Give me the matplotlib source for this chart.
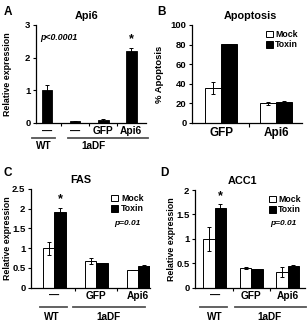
import matplotlib
matplotlib.use("Agg")
import matplotlib.pyplot as plt
from matplotlib.lines import Line2D
import numpy as np

plt.rcParams['font.family'] = ['Liberation Sans', 'DejaVu Sans']
plt.rcParams['font.weight'] = 'bold'

# ---------------- data ----------------
a_labels = ["—", "—", "GFP", "Api6"]
a_values = [1.0, 0.05, 0.09, 2.2]
a_errors = [0.17, 0.01, 0.03, 0.1]

b_labels = ["GFP", "Api6"]
b_mock = [36, 20]
b_mock_err = [6, 1.5]
b_toxin = [81, 21]
b_toxin_err = [0, 1]

c_labels = ["—", "GFP", "Api6"]
c_mock = [1.0, 0.68, 0.45]
c_mock_err = [0.17, 0.08, 0.01]
c_toxin = [1.93, 0.62, 0.55]
c_toxin_err = [0.1, 0.01, 0.03]

d_labels = ["—", "GFP", "Api6"]
d_mock = [1.0, 0.40, 0.32]
d_mock_err = [0.25, 0.02, 0.11]
d_toxin = [1.63, 0.38, 0.44]
d_toxin_err = [0.08, 0.01, 0.02]

W, H = 308, 321
fig = plt.figure(figsize=(W / 100, H / 100), dpi=100)


def make_ax(left, right, top, bottom):
    return fig.add_axes([left / W, 1 - bottom / H, (right - left) / W, (bottom - top) / H])


def style(ax, ylim, yticks, yticklabels, ylabel, ylabel_x, title, letter, letter_xy, title_x=0.5,
          ylabel_size=6.4):
    ax.set_ylim(*ylim)
    ax.set_yticks(yticks)
    ax.set_yticklabels(yticklabels, fontsize=6.8, fontweight='bold')
    for s in ['top', 'right']:
        ax.spines[s].set_visible(False)
    for s in ['left', 'bottom']:
        ax.spines[s].set_linewidth(0.9)
    ax.tick_params(axis='y', length=2.5, width=0.8, pad=1.5)
    ax.tick_params(axis='x', which='major', length=0, pad=2.5, labelsize=7.3)
    ax.tick_params(axis='x', which='minor', length=2, width=0.8)
    ax.set_ylabel(ylabel, fontsize=ylabel_size, fontweight='bold')
    ax.yaxis.set_label_coords(ylabel_x, 0.5)
    ax.set_title(title, fontsize=7.8, fontweight='bold', pad=4, x=title_x)
    fig.text(letter_xy[0] / W, 1 - letter_xy[1] / H, letter, fontsize=8.5, fontweight='bold',
             ha='left', va='center')


def groups(ax, spans, names, name_x, line_y, text_y):
    tr = ax.get_xaxis_transform()
    for (x0, x1), nm, nx in zip(spans, names, name_x):
        ax.add_line(Line2D([x0, x1], [line_y, line_y], transform=tr, color='#555555',
                           lw=1.3, clip_on=False))
        ax.text(nx, text_y, nm, transform=tr, ha='center', va='center', fontsize=7.2,
                fontweight='bold')


ekw = dict(ecolor='black', elinewidth=0.7, capsize=1.5, capthick=0.7)
legkw = dict(frameon=False, prop={'size': 6.3, 'weight': 'bold'}, handlelength=0.8,
             handleheight=0.8, handletextpad=0.3, labelspacing=0.15, borderpad=0.2)

# ---------------- Panel A ----------------
axA = make_ax(36, 146, 25, 123)
xa = np.arange(len(a_values))
axA.bar(xa, a_values, width=0.38, color='black', edgecolor='black', linewidth=0.6,
        yerr=a_errors, error_kw=ekw)
axA.set_xlim(-0.39, 3.52)
axA.set_xticks(xa)
axA.set_xticklabels(a_labels, fontweight='bold')
axA.set_xticks(xa[:-1] + 0.5, minor=True)
style(axA, (0, 3), [0, 1, 2, 3], ["0", "1", "2", "3"], "Relative expression", -0.215,
      "Api6", "A", (4, 12), title_x=0.46)
axA.text(0.04, 0.87, "p<0.0001", transform=axA.transAxes, fontsize=6.3, fontweight='bold',
         style='italic', ha='left', va='center')
axA.text(xa[3], a_values[3] + a_errors[3] + 0.08, "*", ha='center', va='bottom', fontsize=9,
         fontweight='bold')
groups(axA, [(xa[0] - 0.53, xa[0] + 0.28), (xa[1] - 0.25, xa[3] + 0.58)], ["WT", "1aDF"],
       [xa[0] - 0.1, 1.65], -15 / 98, -23 / 98)

# ---------------- Panel B ----------------
axB = make_ax(192, 302, 25, 123)
xb = np.arange(len(b_labels))
bw = 0.29
axB.bar(xb - bw / 2, b_mock, width=bw, color='white', edgecolor='black', linewidth=0.7,
        yerr=b_mock_err, error_kw=ekw, label='Mock')
axB.bar(xb + bw / 2, b_toxin, width=bw, color='black', edgecolor='black', linewidth=0.7,
        yerr=b_toxin_err, error_kw=ekw, label='Toxin')
axB.set_xlim(-0.53, 1.47)
axB.set_xticks(xb)
axB.set_xticklabels(b_labels, fontweight='bold')
axB.set_xticks(xb[:-1] + 0.5, minor=True)
style(axB, (0, 100), [0, 20, 40, 60, 80, 100], ["0", "20", "40", "60", "80", "100"],
      "% Apoptosis", -0.255, "Apoptosis", "B", (157, 12), title_x=0.53, ylabel_size=6.8)
axB.tick_params(axis='x', which='major', labelsize=8.5, pad=3)
axB.tick_params(axis='x', which='minor', length=3)
axB.legend(loc='upper right', bbox_to_anchor=(1.02, 1.01), **legkw)

# ---------------- Panel C ----------------
axC = make_ax(31, 150, 189, 287.7)
xc = np.arange(len(c_labels))
cw = 0.27
axC.bar(xc - cw / 2, c_mock, width=cw, color='white', edgecolor='black', linewidth=0.7,
        yerr=c_mock_err, error_kw=ekw, label='Mock')
axC.bar(xc + cw / 2, c_toxin, width=cw, color='black', edgecolor='black', linewidth=0.7,
        yerr=c_toxin_err, error_kw=ekw, label='Toxin')
axC.set_xlim(-0.555, 2.28)
axC.set_xticks(xc)
axC.set_xticklabels(c_labels, fontweight='bold')
axC.set_xticks(xc[:-1] + 0.5, minor=True)
style(axC, (0, 2.5), [0, 0.5, 1, 1.5, 2, 2.5], ["0", "0.5", "1", "1.5", "2", "2.5"],
      "Relative expression", -0.16, "FAS", "C", (4, 173), title_x=0.42)
axC.legend(loc='upper right', bbox_to_anchor=(1.0, 1.01), **legkw)
axC.text(0.81, 0.65, "p=0.01", transform=axC.transAxes, fontsize=6, fontweight='bold',
         style='italic', ha='center', va='center')
axC.text(xc[0] + cw / 2, c_toxin[0] + c_toxin_err[0] + 0.05, "*", ha='center', va='bottom',
         fontsize=9, fontweight='bold')
groups(axC, [(xc[0] - 0.34, xc[0] + 0.3), (xc[1] - 0.55, xc[2] + 0.16)], ["WT", "1aDF"],
       [xc[0] - 0.05, 1.28], -19.3 / 98.7, -29 / 98.7)

# ---------------- Panel D ----------------
axD = make_ax(195, 305, 190, 287.7)
xd = np.arange(len(d_labels))
dw = 0.31
axD.bar(xd - dw / 2, d_mock, width=dw, color='white', edgecolor='black', linewidth=0.7,
        yerr=d_mock_err, error_kw=ekw, label='Mock')
axD.bar(xd + dw / 2, d_toxin, width=dw, color='black', edgecolor='black', linewidth=0.7,
        yerr=d_toxin_err, error_kw=ekw, label='Toxin')
axD.set_xlim(-0.54, 2.47)
axD.set_xticks(xd)
axD.set_xticklabels(d_labels, fontweight='bold')
axD.set_xticks(xd[:-1] + 0.5, minor=True)
style(axD, (0, 2), [0, 0.5, 1, 1.5, 2], ["0", "0.5", "1", "1.5", "2"],
      "Relative expression", -0.17, "ACC1", "D", (160, 173), title_x=0.43)
axD.legend(loc='upper right', bbox_to_anchor=(1.02, 1.01), **legkw)
axD.text(0.8, 0.66, "p=0.01", transform=axD.transAxes, fontsize=6, fontweight='bold',
         style='italic', ha='center', va='center')
axD.text(xd[0] + dw / 2, d_toxin[0] + d_toxin_err[0] + 0.04, "*", ha='center', va='bottom',
         fontsize=9, fontweight='bold')
groups(axD, [(xd[0] - 0.4, xd[0] + 0.33), (xd[1] - 0.45, xd[2] + 0.5)], ["WT", "1aDF"],
       [xd[0], 1.5], -19.3 / 97.7, -29 / 97.7)

fig.savefig("out.png", dpi=100)
